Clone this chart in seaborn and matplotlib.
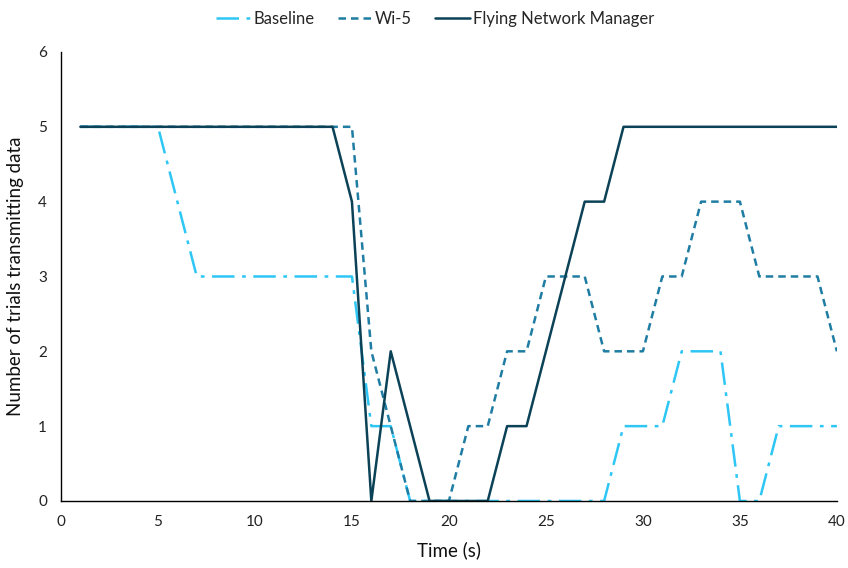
import matplotlib
matplotlib.use("Agg")
import matplotlib.pyplot as plt
import seaborn as sns
import pandas as pd

# Time steps (s) and number of trials transmitting data per approach
time_s = list(range(1, 41))
baseline = [5, 5, 5, 5, 5, 4, 3, 3, 3, 3,
            3, 3, 3, 3, 3, 1, 1, 0, 0, 0,
            0, 0, 0, 0, 0, 0, 0, 0, 1, 1,
            1, 2, 2, 2, 0, 0, 1, 1, 1, 1]
wi5 = [5, 5, 5, 5, 5, 5, 5, 5, 5, 5,
       5, 5, 5, 5, 5, 2, 1, 0, 0, 0,
       1, 1, 2, 2, 3, 3, 3, 2, 2, 2,
       3, 3, 4, 4, 4, 3, 3, 3, 3, 2]
fnm = [5, 5, 5, 5, 5, 5, 5, 5, 5, 5,
       5, 5, 5, 5, 4, 0, 2, 1, 0, 0,
       0, 0, 1, 1, 2, 3, 4, 4, 5, 5,
       5, 5, 5, 5, 5, 5, 5, 5, 5, 5]
series_names = ["Baseline", "Wi-5", "Flying Network Manager"]
x_ticks = [0, 5, 10, 15, 20, 25, 30, 35, 40]
y_ticks = [0, 1, 2, 3, 4, 5, 6]

sns.set_theme(style="white")
plt.rcParams["font.family"] = ["Lato", "DejaVu Sans"]

df = pd.DataFrame({"Time (s)": time_s,
                   series_names[0]: baseline,
                   series_names[1]: wi5,
                   series_names[2]: fnm})

colors = ["#2EC6F5", "#1F7DA3", "#0C4257"]
dashes = [(0, (9, 3, 1.5, 3)), (0, (3, 2)), "-"]

fig = plt.figure(figsize=(8.48, 5.68), dpi=100)
ax = fig.add_axes([0.0719, 0.118, 0.915, 0.7905])

for name, c, ls in zip(series_names, colors, dashes):
    sns.lineplot(data=df, x="Time (s)", y=name, ax=ax, color=c,
                 linestyle=ls, linewidth=1.8, label=name)

ax.set_xlim(0, 40)
ax.set_ylim(0, 6)
ax.set_xticks(x_ticks)
ax.set_yticks(y_ticks)
ax.tick_params(axis="both", length=0, labelsize=11, colors="#222222", pad=10)
ax.set_xlabel("Time (s)", fontsize=13.5, color="#111111", labelpad=9)
ax.set_ylabel("Number of trials transmitting data", fontsize=13.5,
              color="#111111", labelpad=10)

for side in ["top", "right"]:
    ax.spines[side].set_visible(False)
for side in ["left", "bottom"]:
    ax.spines[side].set_color("black")
    ax.spines[side].set_linewidth(1.0)

ax.legend(loc="center", bbox_to_anchor=(0.482, 1.073), ncol=3,
          frameon=False, fontsize=12, handlelength=2.1, handletextpad=0.15,
          columnspacing=1.4)

fig.savefig("out.png", dpi=100)
